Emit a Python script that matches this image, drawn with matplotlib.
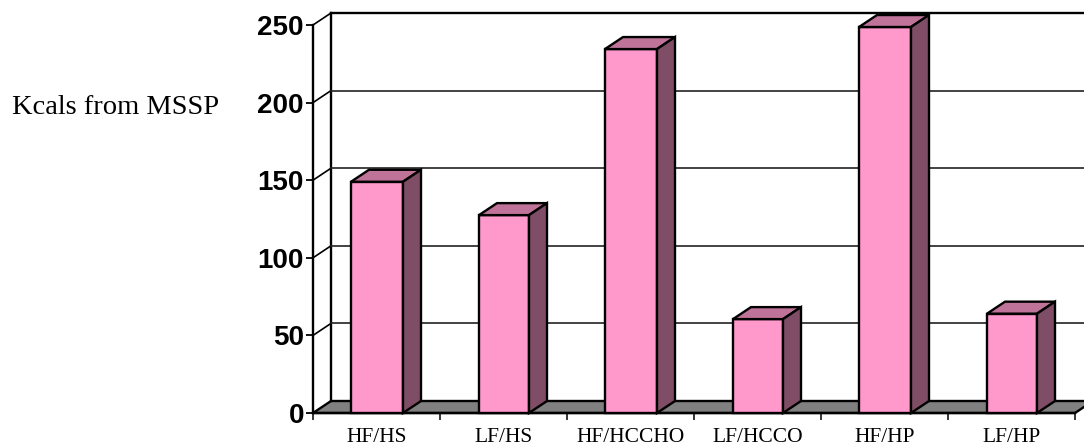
import matplotlib.pyplot as plt
from matplotlib.patches import Polygon

categories = ["HF/HS", "LF/HS", "HF/HCCHO", "LF/HCCO", "HF/HP", "LF/HP"]
kcals = [149, 127.5, 234.5, 60.5, 248.7, 64]
y_ticks = [0, 50, 100, 150, 200, 250]

W, H = 1084, 445
left, right, bottom, top = 313, 1075, 413, 25  # plot box in pixels
cat_px = (right - left) / len(categories)

fig = plt.figure(figsize=(W / 100, H / 100), dpi=100)
ax = fig.add_axes([left / W, 1 - bottom / H, (right - left) / W, (bottom - top) / H])
ax.set_xlim(0, len(categories))
ax.set_ylim(0, 250)

# 3d offset of the back wall, pixels -> data units
dx = 18 / cat_px
dy = 12 / ((bottom - top) / 250)
lw = 1.7
grid_lw = 1.2
xmax = len(categories)

ax.add_patch(Polygon([(0, 0), (dx, dy), (xmax + dx, dy), (xmax, 0)], closed=True,
                     facecolor="#808080", edgecolor="black", lw=lw, clip_on=False, zorder=1))
ax.plot([dx, dx], [dy, 250 + dy], color="black", lw=lw, clip_on=False, zorder=1)
ax.plot([dx, xmax + dx], [250 + dy, 250 + dy], color="black", lw=lw, clip_on=False, zorder=1)
for t in y_ticks[1:]:
    ax.plot([0, dx], [t, t + dy], color="black", lw=grid_lw, clip_on=False, zorder=1)
    if t < 250:
        ax.plot([dx, xmax + dx], [t + dy, t + dy], color="#222222", lw=grid_lw, clip_on=False, zorder=1)

for i, v in enumerate(kcals):
    # the source bars alternate by a pixel or two
    offset, bar_px = (38, 52) if i % 2 == 0 else (39, 50)
    bar_w = bar_px / cat_px
    x0 = i + offset / cat_px
    x1 = x0 + bar_w
    ax.bar(x0, v, width=bar_w, align="edge", color="#FF99CC", edgecolor="black", lw=lw,
           clip_on=False, zorder=3)
    ax.add_patch(Polygon([(x0, v), (x0 + dx, v + dy), (x1 + dx, v + dy), (x1, v)], closed=True,
                         facecolor="#BF7399", edgecolor="black", lw=lw, clip_on=False, zorder=3))
    ax.add_patch(Polygon([(x1, 0), (x1 + dx, dy), (x1 + dx, v + dy), (x1, v)], closed=True,
                         facecolor="#804D66", edgecolor="black", lw=lw, clip_on=False, zorder=3))

for s in ["top", "right"]:
    ax.spines[s].set_visible(False)
for s in ["left", "bottom"]:
    ax.spines[s].set_linewidth(lw)

ax.set_yticks(y_ticks)
ax.set_yticklabels(y_ticks, fontfamily="Liberation Sans", fontweight="bold", fontsize=20)
ax.tick_params(axis="y", length=5, width=1.3, pad=1.5)

ax.set_xticks(range(len(categories) + 1))
ax.set_xticklabels([])
ax.set_xticks([i + 0.5 for i in range(len(categories))], minor=True)
ax.set_xticklabels(categories, minor=True, fontfamily="Liberation Serif", fontsize=15.5)
ax.tick_params(axis="x", which="major", length=5, width=1.1)
ax.tick_params(axis="x", which="minor", length=0, pad=11)

fig.text(12 / W, 1 - 107 / H, "Kcals from MSSP", fontfamily="Liberation Serif", fontsize=20.5,
         ha="left", va="center")

fig.savefig("out.png", dpi=100)
